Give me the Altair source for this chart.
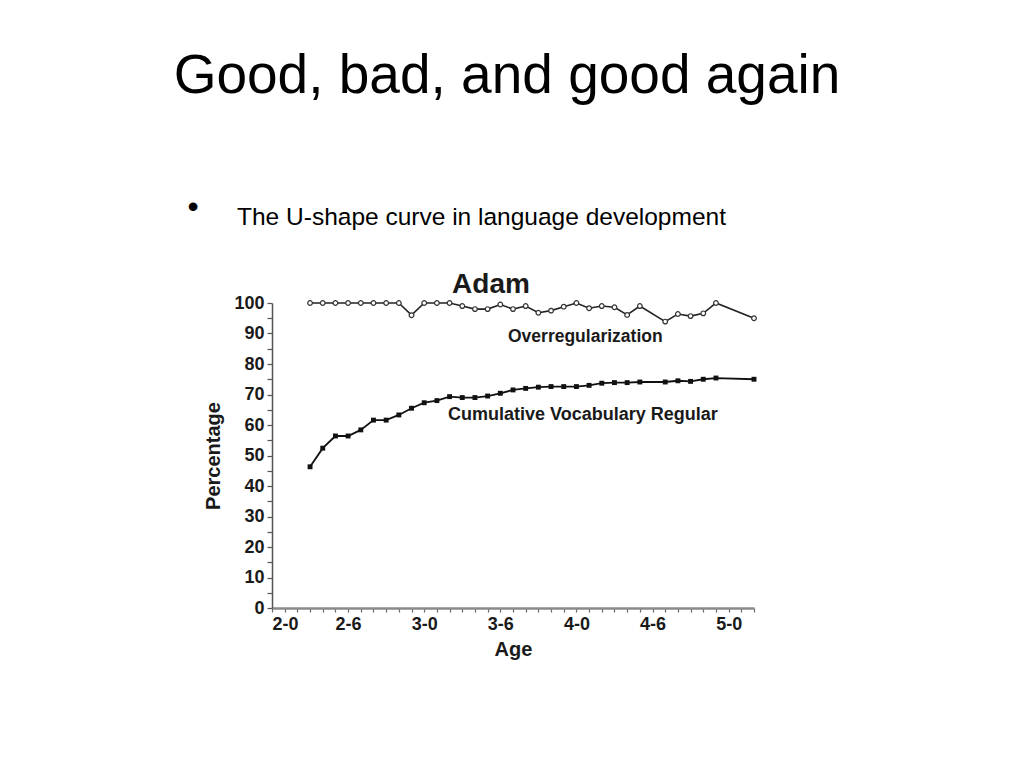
import altair as alt
import pandas as pd

# ---- data ----
months = [27, 28, 29, 30, 31, 32, 33, 34, 35, 36, 37, 38, 39, 40, 41, 42, 43, 44,
          45, 46, 47, 48, 49, 50, 51, 52, 53, 55, 56, 57, 58, 59, 62]
overregularization = [100, 100, 100, 100, 100, 100, 100, 100, 96, 100, 100, 100,
                      99, 98, 98, 99.5, 98, 99, 96.8, 97.5, 98.8, 100, 98.3, 99,
                      98.6, 96.1, 99, 93.9, 96.4, 95.7, 96.6, 100, 95]
cumulative_regular = [46.3, 52.4, 56.4, 56.4, 58.4, 61.6, 61.6, 63.3, 65.5, 67.3,
                      68, 69.3, 69, 69, 69.5, 70.4, 71.5, 72, 72.4, 72.6, 72.6,
                      72.6, 73, 73.7, 73.9, 73.9, 74.1, 74.1, 74.5, 74.3, 75,
                      75.4, 75]
series_names = ["Overregularization", "Cumulative Vocabulary Regular"]
x_ticks = list(range(24, 63))
y_ticks = list(range(0, 101, 5))

df = pd.DataFrame({
    "month": months * 2,
    "value": overregularization + cumulative_regular,
    "series": [series_names[0]] * len(months) + [series_names[1]] * len(months),
})

FONT = "Liberation Sans"

x_enc = alt.X(
    "month:Q",
    scale=alt.Scale(domain=[24, 62], nice=False, zero=False),
    axis=alt.Axis(
        values=x_ticks,
        labelExpr="datum.value % 6 == 0 ? floor(datum.value / 12) + '-' + (datum.value % 12) : ''",
        labelAlign={"condition": {"test": "datum.value <= 24", "value": "left"}, "value": "center"},
        tickSize=4, grid=False, title="Age",
        titleFontSize=20, titleFontWeight="bold", titleFont=FONT, titleColor="#1a1a1a",
        labelFontSize=18, labelFontWeight="bold", labelFont=FONT, labelColor="#1a1a1a",
        labelPadding=3, titlePadding=6, labelOverlap=False, labelFlush=False,
        domainColor="#8a8a8a", domainWidth=2.5, tickColor="#666", tickWidth=1.2,
    ),
)
y_enc = alt.Y(
    "value:Q",
    scale=alt.Scale(domain=[0, 100], nice=False),
    axis=alt.Axis(
        values=y_ticks,
        labelExpr="datum.value % 10 == 0 ? datum.label : ''",
        tickSize=5, grid=False, title="Percentage",
        titleFontSize=20, titleFontWeight="bold", titleFont=FONT, titleColor="#1a1a1a",
        labelFontSize=18, labelFontWeight="bold", labelFont=FONT, labelColor="#1a1a1a",
        labelPadding=3, titlePadding=10, labelOverlap=False,
        domainColor="#555", domainWidth=1.5, tickColor="#555", tickWidth=1.2,
    ),
)

base = alt.Chart(df)

over_line = base.transform_filter(alt.datum.series == series_names[0]).mark_line(
    color="#222", strokeWidth=1.6).encode(x=x_enc, y=y_enc)
over_pts = base.transform_filter(alt.datum.series == series_names[0]).mark_point(
    shape="circle", filled=True, fill="white", stroke="#333", strokeWidth=1.2, size=22, opacity=1
).encode(x=x_enc, y=y_enc)

cum_line = base.transform_filter(alt.datum.series == series_names[1]).mark_line(
    color="#111", strokeWidth=1.8).encode(x=x_enc, y=y_enc)
cum_pts = base.transform_filter(alt.datum.series == series_names[1]).mark_point(
    shape="square", filled=True, color="#111", size=24, opacity=1
).encode(x=x_enc, y=y_enc)

one = pd.DataFrame({"a": [0]})


def label(text, x, y, size, weight="normal", align="left", baseline="alphabetic", font=FONT, color="#1a1a1a"):
    return alt.Chart(one).mark_text(
        align=align, baseline=baseline, fontSize=size, fontWeight=weight, font=font, color=color
    ).encode(x=alt.value(x), y=alt.value(y), text=alt.value(text))


texts = [
    label("Good, bad, and good again", 235, -210, 55, align="center", color="#000"),
    label("•", -79, -96, 32, align="center", baseline="middle", color="#000"),
    label("The U-shape curve in language development", -35, -78, 24.5, color="#000"),
    label("Adam", 219, -10, 28, weight="bold", align="center"),
    label(series_names[0], 236, 39, 17.5, weight="bold"),
    label(series_names[1], 176, 117, 18, weight="bold"),
]

chart = alt.layer(over_line, over_pts, cum_line, cum_pts, *texts).properties(
    width=482, height=305,
    autosize=alt.AutoSizeParams(type="none"),
    padding={"left": 264, "top": 295, "right": 240, "bottom": 140},
    background="white",
).configure_view(stroke=None).configure_axis(labelOverlap=False)

chart.save("out.html", embed_options={"renderer": "svg", "actions": False})
